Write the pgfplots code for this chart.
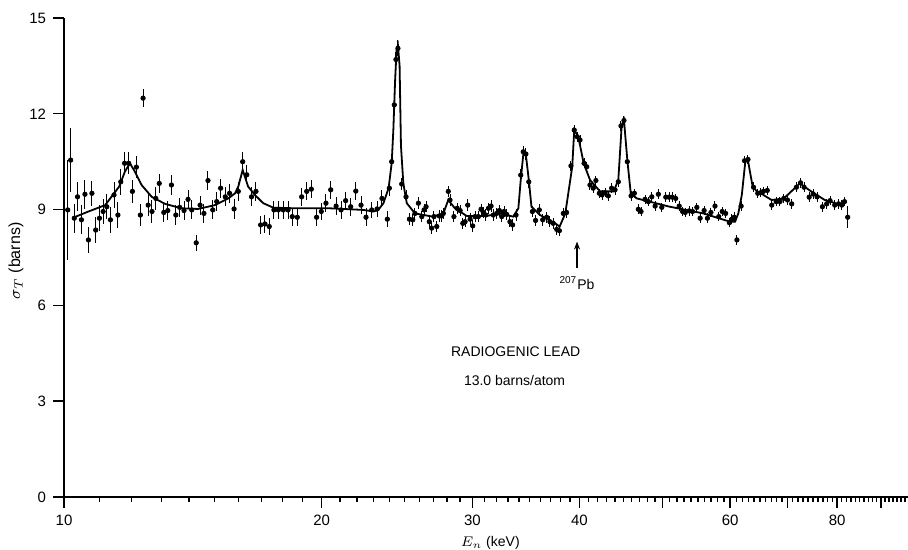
\documentclass[border=0pt]{standalone}
\usepackage{pgfplots}
\usepackage{pgfplotstable}
\pgfplotsset{compat=1.18}
\usetikzlibrary{arrows.meta}
\usepackage{fontspec}
\setmainfont{Liberation Sans}

\pgfplotstableread{
x y e
10.10 8.99 1.57
10.18 10.55 1.00
10.28 8.73 0.45
10.37 9.40 0.45
10.48 8.68 0.45
10.58 9.48 0.45
10.68 8.05 0.40
10.78 9.51 0.40
10.89 8.36 0.40
11.00 8.73 0.40
11.11 8.94 0.40
11.22 9.09 0.40
11.33 8.68 0.40
11.44 9.46 0.40
11.56 8.83 0.40
11.65 9.87 0.40
11.77 10.45 0.35
11.90 10.45 0.35
12.02 9.57 0.35
12.15 10.33 0.35
12.28 8.83 0.35
12.37 12.49 0.28
12.54 9.14 0.35
12.67 8.94 0.35
12.80 9.35 0.35
12.92 9.82 0.30
13.08 8.91 0.30
13.22 8.97 0.30
13.35 9.77 0.30
13.51 8.83 0.30
13.65 9.07 0.30
13.81 8.97 0.30
13.96 9.32 0.30
14.10 8.99 0.30
14.27 7.96 0.25
14.42 9.14 0.30
14.57 8.88 0.30
14.73 9.91 0.30
14.92 8.99 0.30
15.08 9.25 0.30
15.24 9.67 0.30
15.43 9.40 0.30
15.61 9.51 0.30
15.80 9.02 0.30
15.98 9.57 0.30
16.17 10.50 0.30
16.35 10.09 0.30
16.56 9.40 0.30
16.76 9.57 0.30
16.97 8.52 0.28
17.17 8.55 0.28
17.37 8.47 0.28
17.59 8.99 0.28
17.80 8.99 0.28
18.04 8.99 0.28
18.27 8.99 0.28
18.48 8.78 0.28
18.73 8.76 0.28
18.95 9.40 0.28
19.21 9.57 0.28
19.45 9.64 0.28
19.73 8.76 0.28
19.98 8.94 0.28
20.23 9.20 0.28
20.49 9.62 0.28
20.79 9.11 0.28
21.07 8.99 0.28
21.33 9.28 0.28
21.62 9.09 0.28
21.92 9.58 0.28
22.23 9.14 0.28
22.53 8.76 0.28
22.88 8.99 0.25
23.21 9.02 0.25
23.52 9.35 0.25
23.86 8.70 0.25
23.99 9.67 0.25
24.14 10.50 0.25
24.31 12.28 0.25
24.42 13.70 0.25
24.55 14.05 0.25
24.80 9.80 0.20
25.09 9.40 0.20
25.32 8.70 0.18
25.55 8.68 0.18
25.70 8.88 0.18
25.94 9.20 0.18
26.18 8.78 0.18
26.34 8.99 0.18
26.48 9.09 0.18
26.71 8.62 0.18
26.88 8.42 0.18
27.05 8.78 0.18
27.25 8.47 0.18
27.44 8.80 0.18
27.61 8.80 0.18
27.74 8.88 0.18
28.11 9.57 0.18
28.24 9.30 0.18
28.54 8.78 0.18
28.79 9.04 0.18
29.02 8.97 0.18
29.23 8.57 0.18
29.41 8.62 0.18
29.62 9.14 0.18
29.81 8.70 0.18
30.02 8.49 0.18
30.21 8.78 0.18
30.48 8.78 0.18
30.70 9.01 0.18
30.89 8.91 0.18
31.10 8.83 0.18
31.32 9.04 0.18
31.54 9.11 0.18
31.73 8.83 0.18
32.02 8.88 0.18
32.25 8.97 0.18
32.46 8.78 0.18
32.66 8.94 0.18
32.89 8.85 0.18
33.18 8.62 0.18
33.42 8.52 0.18
33.73 8.83 0.18
34.16 10.08 0.18
34.39 10.81 0.18
34.64 10.74 0.18
34.91 9.87 0.18
35.25 8.94 0.18
35.55 8.66 0.18
35.91 8.99 0.18
36.24 8.68 0.18
36.63 8.76 0.18
36.95 8.62 0.18
37.28 8.57 0.18
37.63 8.38 0.18
37.90 8.34 0.18
38.31 8.88 0.18
38.65 8.91 0.18
39.10 10.37 0.15
39.45 11.49 0.15
39.77 11.28 0.15
40.06 11.18 0.15
40.50 10.45 0.15
40.79 10.34 0.15
41.15 9.77 0.15
41.51 9.67 0.15
41.81 9.91 0.15
42.20 9.51 0.15
42.51 9.46 0.15
42.85 9.53 0.15
43.23 9.43 0.15
43.62 9.67 0.15
44.02 9.62 0.15
44.41 9.87 0.15
44.73 11.62 0.15
45.09 11.79 0.15
45.50 10.50 0.15
45.96 9.43 0.15
46.37 9.51 0.15
46.87 9.01 0.15
47.21 8.94 0.15
47.72 9.32 0.15
48.15 9.25 0.15
48.59 9.40 0.15
49.03 9.11 0.15
49.46 9.48 0.15
49.92 9.07 0.15
50.46 9.39 0.15
50.90 9.39 0.15
51.36 9.39 0.15
51.82 9.35 0.15
52.31 9.11 0.15
52.79 8.94 0.15
53.16 8.91 0.15
53.73 8.96 0.15
54.22 8.94 0.15
54.85 9.07 0.15
55.34 8.73 0.15
55.94 8.97 0.15
56.44 8.73 0.15
56.97 8.91 0.15
57.60 9.11 0.15
58.18 8.78 0.15
58.73 8.94 0.15
59.27 8.88 0.15
59.87 8.59 0.15
60.27 8.70 0.15
60.66 8.76 0.15
61.10 8.05 0.15
61.79 9.11 0.15
62.36 10.53 0.15
62.94 10.57 0.15
63.89 9.70 0.15
64.62 9.51 0.15
65.14 9.53 0.15
65.60 9.57 0.15
66.30 9.60 0.15
67.10 9.14 0.15
67.90 9.25 0.15
68.60 9.25 0.15
69.30 9.35 0.15
70.00 9.30 0.15
70.80 9.18 0.15
71.70 9.70 0.15
72.50 9.84 0.15
73.20 9.70 0.15
74.20 9.39 0.15
75.00 9.49 0.15
75.80 9.40 0.15
76.90 9.09 0.15
77.80 9.18 0.15
78.50 9.28 0.15
79.50 9.14 0.15
80.30 9.18 0.15
81.00 9.14 0.15
81.60 9.25 0.15
82.30 8.76 0.35
}\pts

\pgfplotstableread{
x y
10.28 8.76
10.68 8.94
11.17 9.14
11.60 9.72
11.78 10.19
11.94 10.45
12.10 10.19
12.32 9.77
12.66 9.40
13.12 9.18
13.72 9.04
14.34 9.02
15.01 9.14
15.56 9.35
15.84 9.51
15.98 9.72
16.17 10.24
16.41 9.72
16.71 9.46
17.09 9.20
17.56 9.06
18.70 9.04
20.45 9.04
22.37 8.99
22.98 8.94
23.29 8.99
23.61 9.20
23.94 9.67
24.14 10.45
24.25 11.50
24.36 13.00
24.46 14.00
24.55 14.15
24.66 13.50
24.75 11.00
24.91 9.82
25.14 9.20
25.70 8.88
26.96 8.78
27.74 8.88
28.11 9.30
28.62 9.04
29.54 8.80
31.16 8.80
32.29 8.88
33.48 8.78
33.94 9.04
34.16 9.93
34.39 10.71
34.64 10.71
34.91 9.93
35.16 9.09
35.98 8.83
37.47 8.57
37.93 8.47
38.51 8.88
39.24 10.34
39.45 11.49
39.88 11.28
40.46 10.45
41.15 9.93
42.28 9.57
43.86 9.57
44.41 9.93
44.82 11.65
45.09 11.81
45.50 10.55
45.92 9.51
46.67 9.35
51.00 9.09
55.83 8.88
59.98 8.62
60.79 8.62
61.33 8.88
61.91 9.46
62.49 10.50
62.91 10.57
63.69 9.77
64.30 9.60
65.60 9.46
67.08 9.30
69.32 9.35
72.36 9.82
74.60 9.57
77.40 9.30
81.00 9.14
}\fit

\begin{document}
\begin{tikzpicture}
\begin{axis}[
  name=ax,
  scale only axis,
  width=422pt, height=239.5pt,
  xmode=log,
  xmin=10, xmax=96.8,
  ymin=0, ymax=15,
  clip=false,
  axis lines=left,
  axis line style={-, line width=0.9pt},
  tick align=outside,
  tick style={black, line width=0.7pt},
  major tick length=5.5pt,
  minor tick length=2.6pt,
  xtick={10,20,30,40,50,60,70,80,90},
  xticklabels={10,20,30,40,,60,,80,},
  minor xtick={11,12,...,19,21,22,...,29,31,32,...,39,41,42,...,49,51,52,...,59,61,62,...,69,71,72,...,79,81,82,...,89,91,92,...,96},
  ytick={0,3,6,9,12,15},
  /pgf/number format/assume math mode=true,
  tick label style={font=\fontsize{7.5}{8}\selectfont},
  xlabel={$E_n$ (keV)},
  ylabel={$\sigma_T$ (barns)},
  xlabel style={font=\fontsize{7}{8}\selectfont, at={(axis description cs:0.505,-0.096)}, anchor=center},
  ylabel style={font=\fontsize{8}{9}\selectfont, at={(axis description cs:-0.057,0.493)}, anchor=center},
]
\addplot[black, line width=0.9pt] table[x=x,y=y]{\fit};
\addplot[only marks, mark=*, mark size=1.1pt, black,
  error bars/.cd, y dir=both, y explicit, error mark=none,
  error bar style={line width=0.5pt, black}]
  table[x=x, y=y, y error=e]{\pts};
\draw[-{Stealth[length=4pt,width=3pt]}, line width=0.6pt] (axis cs:39.75,7.17) -- (axis cs:39.75,8.0);
\node[font=\fontsize{7}{8}\selectfont] at (axis cs:39.75,6.70) {\textsuperscript{207}Pb};
\node[font=\fontsize{7}{8}\selectfont] at (axis cs:33.7,4.54) {RADIOGENIC LEAD};
\node[font=\fontsize{7}{8}\selectfont] at (axis cs:33.6,3.66) {13.0 barns/atom};
\end{axis}
\pgfresetboundingbox
\path[use as bounding box] (ax.south west) ++(-32pt,-26.5pt) rectangle ++(454pt,275pt);
\end{tikzpicture}
\end{document}
